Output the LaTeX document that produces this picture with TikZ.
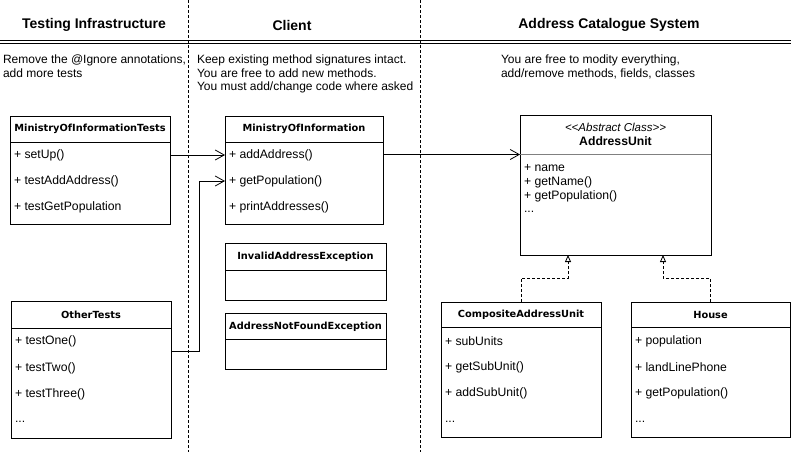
\documentclass[tikz,border=0pt]{standalone}
\usepackage{fontspec}
\setmainfont{Liberation Sans}
\newfontfamily\clsfont{DejaVu Sans}
\usetikzlibrary{arrows.meta}
\begin{document}
\begin{tikzpicture}[x=1pt,y=-1pt,
  every node/.style={inner sep=0pt, outer sep=0pt},
  heading/.style={font=\fontsize{14}{17}\selectfont\bfseries},
  note/.style={font=\fontsize{12}{14}\selectfont, anchor=west},
  member/.style={font=\fontsize{12.2}{14}\selectfont, anchor=west},
  clsname/.style={font=\clsfont\fontsize{9.8}{12}\selectfont\bfseries},
  clsbox/.style={draw, line width=0.8pt, anchor=north west},
  divider/.style={line width=0.8pt},
  lane/.style={line width=0.6pt, dash pattern=on 3pt off 2pt},
  assoc/.style={line width=0.8pt, -{Straight Barb[length=9pt,width=10pt,line width=0.8pt]}},
  realize/.style={line width=0.8pt, dash pattern=on 3pt off 2pt, -{Triangle[open,length=7pt,width=6pt,line width=0.8pt]}}
]
\useasboundingbox (0,0) rectangle (791,452);
\fill[white] (0,0) rectangle (791,452);

% swimlane separators
\coordinate (l1t) at (188.5,0);  \coordinate (l1b) at (188.5,452);
\coordinate (l2t) at (420.5,0);  \coordinate (l2b) at (420.5,452);
\draw[lane] (l1t) -- (l1b);
\draw[lane] (l2t) -- (l2b);

% lane headings
\node[heading] (h1) at (94,25) {Testing Infrastructure};
\node[heading] (h2) at (292,25) {Client};
\node[heading] (h3) at (609,25) {Address Catalogue System};
\coordinate (ra) at (0,40); \coordinate (rb) at (791,40);
\coordinate (rc) at (0,43); \coordinate (rd) at (791,43);
\draw[line width=0.8pt] (ra) -- (rb);
\draw[line width=0.8pt] (rc) -- (rd);

% lane notes
\node[note] (n1a) at (3,60) {Remove the @Ignore annotations,};
\node[note] (n1b) at (3,73.5) {add more tests};
\node[note] (n2a) at (197,60) {Keep existing method signatures intact.};
\node[note] (n2b) at (197,73.5) {You are free to add new methods.};
\node[note] (n2c) at (197,87) {You must add/change code where asked};
\node[note] (n3a) at (501,60) {You are free to modity everything,};
\node[note] (n3b) at (501,73.5) {add/remove methods, fields, classes};

% MinistryOfInformationTests
\node[clsbox, minimum width=160pt, minimum height=108pt] (moit) at (10,116) {};
\node[clsname] (moitn) at (90,129) {MinistryOfInformationTests};
\draw[divider] (moit.west |- 0,142) -- (moit.east |- 0,142);
\node[member] (setup) at (14,155) {+ setUp()};
\node[member] (tadd) at (14,181) {+ testAddAddress()};
\node[member] (tget) at (14,207) {+ testGetPopulation};

% OtherTests
\node[clsbox, minimum width=160pt, minimum height=137pt] (ot) at (11,301) {};
\node[clsname] (otn) at (91,314.5) {OtherTests};
\draw[divider] (ot.west |- 0,328) -- (ot.east |- 0,328);
\node[member] (tone) at (15,341) {+ testOne()};
\node[member] (ttwo) at (15,368) {+ testTwo()};
\node[member] (tthree) at (15,394) {+ testThree()};
\node[member] (totdots) at (15,422) {...};

% MinistryOfInformation
\node[clsbox, minimum width=158pt, minimum height=108pt] (moi) at (225,116) {};
\node[clsname] (moin) at (304,129) {MinistryOfInformation};
\draw[divider] (moi.west |- 0,142) -- (moi.east |- 0,142);
\node[member] (addaddr) at (229,155) {+ addAddress()};
\node[member] (getpop) at (229,181) {+ getPopulation()};
\node[member] (printaddr) at (229,207) {+ printAddresses()};

% exceptions
\node[clsbox, minimum width=161pt, minimum height=57pt] (iae) at (225,243) {};
\node[clsname] (iaen) at (305.5,257) {InvalidAddressException};
\draw[divider] (iae.west |- 0,270) -- (iae.east |- 0,270);

\node[clsbox, minimum width=161pt, minimum height=56pt] (anfe) at (225,313) {};
\node[clsname] (anfen) at (305.5,327) {AddressNotFoundException};
\draw[divider] (anfe.west |- 0,339) -- (anfe.east |- 0,339);

% AddressUnit
\node[clsbox, minimum width=191pt, minimum height=140pt] (au) at (520,115) {};
\node[font=\fontsize{11.5}{13}\selectfont\itshape] (aus) at (615.5,127.5) {<\kern0pt<Abstract Class>\kern0pt>};
\node[font=\fontsize{12.2}{14}\selectfont\bfseries] (aun) at (615.5,141.5) {AddressUnit};
\draw[line width=0.8pt, gray] (au.west |- 0,154.5) -- (au.east |- 0,154.5);
\node[member] (auname) at (524,168) {+ name};
\node[member] (augetname) at (524,182) {+ getName()};
\node[member] (augetpop) at (524,196) {+ getPopulation()};
\node[member] (audots) at (524,212) {...};

% CompositeAddressUnit
\node[clsbox, minimum width=160pt, minimum height=135pt] (cau) at (441,302) {};
\node[clsname] (caun) at (521,315) {CompositeAddressUnit};
\draw[divider] (cau.west |- 0,327.5) -- (cau.east |- 0,327.5);
\node[member] (subunits) at (445,341) {+ subUnits};
\node[member] (getsub) at (445,367) {+ getSubUnit()};
\node[member] (addsub) at (445,393) {+ addSubUnit()};
\node[member] (caudots) at (445,422) {...};

% House
\node[clsbox, minimum width=159pt, minimum height=135pt] (house) at (631,302) {};
\node[clsname] (housen) at (710.5,315) {House};
\draw[divider] (house.west |- 0,327.5) -- (house.east |- 0,327.5);
\node[member] (hpop) at (635,341) {+ population};
\node[member] (hphone) at (635,367) {+ landLinePhone};
\node[member] (hgetpop) at (635,393) {+ getPopulation()};
\node[member] (hdots) at (635,422) {...};

% associations
\draw[assoc] (moit.east |- 0,155) -- (moi.west |- 0,155);
\draw[assoc] (ot.east |- 0,351) -- (199,351) -- (199,181) -- (moi.west |- 0,181);
\draw[assoc] (moi.east |- 0,154.5) -- (au.west |- 0,154.5);

% realisations
\draw[realize] (cau.north -| 521,0) -- (521,278) -- (568,278) -- (au.south -| 568,0);
\draw[realize] (house.north -| 710,0) -- (710,278) -- (663,278) -- (au.south -| 663,0);
\end{tikzpicture}
\end{document}
